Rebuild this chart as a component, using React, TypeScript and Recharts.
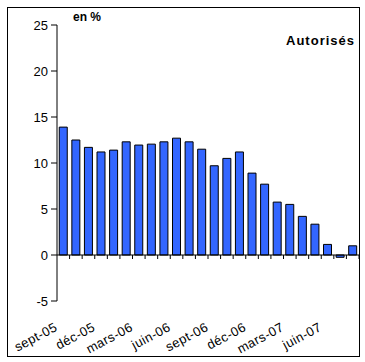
import { BarChart, Bar, XAxis, YAxis, ReferenceLine } from 'recharts';

const months = [
  'sept-05', 'oct-05', 'nov-05', 'déc-05', 'janv-06', 'févr-06', 'mars-06', 'avr-06',
  'mai-06', 'juin-06', 'juil-06', 'août-06', 'sept-06', 'oct-06', 'nov-06', 'déc-06',
  'janv-07', 'févr-07', 'mars-07', 'avr-07', 'mai-07', 'juin-07', 'juil-07', 'août-07'
];
const autorises = [
  13.9, 12.5, 11.7, 11.2, 11.4, 12.3, 11.95, 12.05, 12.3, 12.7, 12.3, 11.5,
  9.7, 10.5, 11.2, 8.9, 7.7, 5.75, 5.5, 4.2, 3.35, 1.15, -0.25, 1.0
];
const yTicks = [-5, 0, 5, 10, 15, 20, 25];

const data = months.map((m, i) => ({ month: m, value: autorises[i] }));

const font = '"Liberation Sans", Arial, sans-serif';

function MonthTick(props: any) {
  const { x, y, payload } = props;
  const ty = y + 21;
  const tx = x - 5;
  return (
    <text
      x={tx}
      y={ty}
      textAnchor="end"
      transform={`rotate(-28, ${tx}, ${ty})`}
      fontSize={13}
      fontFamily={font}
      letterSpacing={0.4}
      fill="#000"
    >
      {payload.value}
    </text>
  );
}

// zero line with tick marks between categories
function ZeroAxis(props: any) {
  const { x1, y1, x2 } = props;
  const step = (x2 - x1) / months.length;
  return (
    <g>
      <line x1={x1} y1={y1} x2={x2} y2={y1} stroke="#000" strokeWidth={1} />
      {months.map((_, i) => (
        <line
          key={i}
          x1={x1 + step * (i + 1)}
          y1={y1}
          x2={x1 + step * (i + 1)}
          y2={y1 + 4}
          stroke="#000"
          strokeWidth={1}
        />
      ))}
    </g>
  );
}

export default function App() {
  return (
    <div style={{ position: 'absolute', left: 0, top: 0, width: 365, height: 362, background: '#fff' }}>
      <BarChart
        width={365}
        height={362}
        data={data}
        margin={{ top: 25, right: 6, bottom: 21, left: 0 }}
        barCategoryGap="18%"
      >
        <XAxis
          dataKey="month"
          interval={2}
          axisLine={false}
          tickLine={false}
          height={40}
          tick={<MonthTick />}
        />
        <YAxis
          domain={[-5, 25]}
          ticks={yTicks}
          width={57}
          axisLine={{ stroke: '#000' }}
          tickLine={{ stroke: '#000' }}
          tickSize={6}
          tickMargin={3}
          tick={{ fontSize: 13, fontFamily: font, fill: '#000' }}
        />
        <Bar dataKey="value" fill="#3366FF" stroke="#000" strokeWidth={1} isAnimationActive={false} />
        <ReferenceLine y={0} shape={<ZeroAxis />} />
      </BarChart>
      <div style={{ position: 'absolute', left: 7, top: 7, width: 351, height: 348, border: '1px solid #000', pointerEvents: 'none' }} />
      <div style={{ position: 'absolute', left: 73, top: 10, fontFamily: font, fontSize: 12, fontWeight: 'bold' }}>en %</div>
      <div style={{ position: 'absolute', right: 10, top: 33, fontFamily: font, fontSize: 13, fontWeight: 'bold', letterSpacing: 1 }}>Autorisés</div>
    </div>
  );
}
